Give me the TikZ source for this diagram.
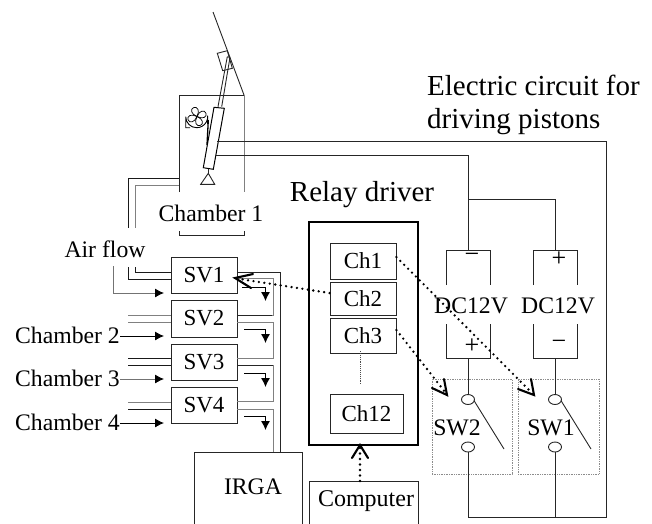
\documentclass[tikz,border=0pt]{standalone}
\usepackage{fontspec}
\setmainfont{Liberation Serif}
\usetikzlibrary{arrows.meta,shapes.geometric}
\newcommand{\fs}[1]{\fontsize{#1}{#1}\selectfont}
\tikzset{
  box/.style={draw=black!85,line width=0.9pt,inner sep=0pt,font=\fs{23}},
  lab/.style={inner sep=0pt,font=\fs{23.7}},
  wire/.style={line width=0.9pt,black!85},
  gwire/.style={line width=0.9pt,black!50},
  tw/.style={line width=1pt,black!90},
  flow/.style={line width=0.9pt,-{Latex[length=9pt,width=9pt]}},
  gflow/.style={line width=0.9pt,draw=black!55,-{Latex[length=9pt,width=9pt,black]}},
  sig/.style={line width=2.6pt,dash pattern=on 0pt off 5.5pt,line cap=round},
  opentip/.style={line width=2.1pt,line cap=round},
  swbox/.style={draw=black!45,densely dotted,line width=0.7pt,inner sep=0pt},
  contact/.style={draw=black!85,line width=0.9pt,ellipse,minimum width=13pt,minimum height=10pt,inner sep=0pt}
}
\begin{document}
\begin{tikzpicture}[x=1pt,y=-1pt]
\useasboundingbox (0,0) rectangle (652,523);
% chamber 1
\coordinate (ctl) at (179,95); \coordinate (ctr) at (244,95);
\coordinate (cbl) at (179,192); \coordinate (cbr) at (244,192);
\draw[wire] (cbl) -- (ctl) -- (ctr);
\draw[gwire] (ctr) -- (cbr);
\draw[wire] (179,231) -- (179,235) -- (244,235) -- (244,231);
\draw[wire] (213,12) -- (ctr);
\draw[wire] (217.3,53.3) -- (227.3,50.7) -- (232.3,68.3) -- (222.7,70.7) -- cycle;
\draw[wire] (227.3,56.7) -- (218,106.7) (230,57.3) -- (221.7,106.7) (227.3,56.7) -- (230,57.3);
\coordinate (cyl1) at (214,107.3); \coordinate (cyl2) at (224.3,108.3);
\coordinate (cyl3) at (213.3,169.3); \coordinate (cyl4) at (203.3,167.7);
\draw[fill=white,line width=1pt] (cyl1) -- (cyl2) -- (cyl3) -- (cyl4) -- cycle;
\draw[wire,line width=1pt] (208.3,168.5) -- (208.3,173.3);
\draw[wire] (208.3,173.3) -- (200.7,184.3) -- (214.7,184.3) -- cycle;
% fan
\draw[line width=0.9pt] (190,127.7) -- (185.7,127.7) -- (185.7,116.7) arc[start angle=180,end angle=-5,radius=11] -- (207.5,124);
\draw[line width=1.3pt] (208.3,120) -- (207,145);
\foreach \a in {20,110,200,290}
  \draw[line width=0.7pt,rotate around={\a:(197,116.5)}] (197,116.5) .. controls (192,112) and (193,107) .. (197,107) .. controls (201,107) and (202,112) .. (197,116.5);
% chamber tubes
\coordinate (t1a) at (128,178); \coordinate (t1b) at (135,185);
\draw[tw] (179,178) -- (t1a) -- (128,228);
\draw[gwire] (179,185) -- (t1b) -- (135,228);
% Air flow
\node[lab] (air) at (105,249) {Air flow};
\node[lab] (c1) at (211,213) {Chamber 1};
% SV
\node[box,minimum width=66pt,minimum height=36pt] (sv1) at (204,275) {SV1};
\node[box,minimum width=66pt,minimum height=37pt] (sv2) at (204,318.5) {SV2};
\node[box,minimum width=66pt,minimum height=36pt] (sv3) at (204,362) {SV3};
\node[box,minimum width=66pt,minimum height=36pt] (sv4) at (204,405) {SV4};
% inputs
\coordinate (i1a) at (135,267); \coordinate (i1b) at (128,267); \coordinate (i1c) at (113,266);
\draw[tw] (i1a) -- (135,272) -- (171,272);
\draw[tw] (i1b) -- (128,279) -- (171,279);
\draw[gflow] (i1c) -- (113,293) -- (164,293);
\draw[gwire] (128,315) -- (171,315) (128,322) -- (171,322);
\draw[tw] (128,358) -- (171,358) (128,365) -- (171,365);
\draw[gwire] (128,402) -- (171,402);
\draw[tw] (128,409) -- (171,409);
\node[lab,anchor=east] (c2) at (120,335) {Chamber 2};
\node[lab,anchor=east] (c3) at (120,378) {Chamber 3};
\node[lab,anchor=east] (c4) at (120,422) {Chamber 4};
\draw[flow] (c2.east) ++(0,1) -- (164,336);
\draw[gflow] (c3.east) ++(0,1) -- (164,379);
\draw[flow] (c4.east) ++(0,1) -- (164,423);
% IRGA
\node[draw=black!85,line width=0.9pt,minimum width=108pt,minimum height=90pt,anchor=north west,inner sep=0pt] (irga) at (193.5,452) {};
\node[lab] (irgat) at (253,487) {IRGA};
% outlets
\draw[wire] (237,272) -- (280,272) -- (280,452);
\draw[gwire] (237,278.5) -- (273,278.5) -- (273,315) -- (237,315);
\draw[wire] (237,315) -- (272,315);
\draw[gwire] (237,322) -- (273,322) -- (273,358) -- (237,358);
\draw[wire] (237,365) -- (273,365);
\draw[gwire] (273,365) -- (273,401.5) -- (237,401.5);
\draw[gwire] (237,409) -- (273,409) -- (273,452);
\foreach \yy/\xx in {287/242,329/244,373/244,416/244}
  \draw[line width=0.9pt,-{Latex[length=9pt,width=9pt]}] (\xx,\yy) -- (265.5,\yy) -- (265.5,\yy+14);
% Relay driver
\node[lab,font=\fs{29}] (rd) at (362,195) {Relay driver};
\node[draw,line width=1.8pt,minimum width=109pt,minimum height=223pt,inner sep=0pt] (relay) at (363.5,333.5) {};
\node[box,minimum width=66pt,minimum height=36pt] (ch1) at (363,261) {Ch1};
\node[box,minimum width=66pt,minimum height=33pt] (ch2) at (363,298.5) {Ch2};
\node[box,minimum width=66pt,minimum height=35pt] (ch3) at (363,335.5) {Ch3};
\node[box,minimum width=73pt,minimum height=39pt] (ch12) at (366.5,413.5) {Ch12};
\draw[black!70,densely dotted,line width=0.9pt] (360,351) -- (360,384);
\node[box,minimum width=109pt,minimum height=60pt,anchor=north] (comp) at (363.5,481) {};
\node[lab,font=\fs{24}] (compt) at (366,501) {Computer};
% batteries
\coordinate (b1t) at (468,250); \coordinate (b2t) at (555,250);
\draw[wire] (446,285) -- (446,250) -- (490,250) -- (490,285);
\draw[wire] (446,324) -- (446,358) -- (490,358) -- (490,324);
\draw[wire] (533,285) -- (533,250) -- (577,250) -- (577,285);
\draw[wire] (533,324) -- (533,358) -- (577,358) -- (577,324);
\node[lab] (minus1) at (472,258) {\fs{26}−};
\node[lab] (plus2) at (559,259.5) {\fs{26}+};
\node[lab] (plus1) at (472,346) {\fs{26}+};
\node[lab] (minus2) at (559,345) {\fs{26}−};
\node[lab] (dc1) at (471,306) {DC12V};
\node[lab] (dc2) at (558,306) {DC12V};
% switches
\node[swbox,minimum width=80pt,minimum height=95pt] (sw2b) at (472,426.5) {};
\node[swbox,minimum width=81pt,minimum height=95pt] (sw1b) at (558.5,426.5) {};
\node[contact] (s2t) at (468,399.5) {};
\node[contact] (s2b) at (468,447) {};
\node[contact] (s1t) at (555,399.5) {};
\node[contact] (s1b) at (555,447) {};
\draw[wire] (s2t.east) ++(-1,1) -- (504,449);
\draw[wire] (s1t.east) ++(-1,1) -- (591,449);
\node[lab] (sw2) at (457,428) {SW2};
\node[lab] (sw1) at (551,428) {SW1};
% circuit
\coordinate (jl) at (468,517); \coordinate (jm) at (555,517); \coordinate (jr) at (606,517);
\coordinate (jt) at (468,199); \coordinate (jtr) at (555,199);
\draw[wire] (217.3,141.5) -- (606,141.5) -- (jr) -- (jl) -- (s2b.south);
\draw[wire] (216,155.7) -- (468,155.7) -- (b1t);
\draw[wire] (jt) -- (jtr) -- (b2t);
\draw[wire] (468,358) -- (s2t.north);
\draw[wire] (555,358) -- (s1t.north);
\draw[wire] (s1b.south) -- (jm);
% signals
\draw[sig] (ch1.east |- 0,257) -- (531,392);
\draw[sig] (ch3.east |- 0,330) -- (445,392);
\draw[sig] (ch2.west |- 0,293) -- (240,279);
\draw[sig] (360,481) -- (360,447);
\draw[opentip] (531,379) -- (534,395) -- (518,389);
\draw[opentip] (444,379) -- (447,395) -- (432,388);
\draw[opentip] (253,274) -- (235,278) -- (251,288);
\draw[opentip] (352,458) -- (360,445) -- (368,458);
% title
\node[anchor=west,inner sep=0pt,font=\fs{29}] (e1) at (427,85) {Electric circuit for};
\node[anchor=west,inner sep=0pt,font=\fs{29}] (e2) at (427,122) {driving pistons};
\end{tikzpicture}
\end{document}
